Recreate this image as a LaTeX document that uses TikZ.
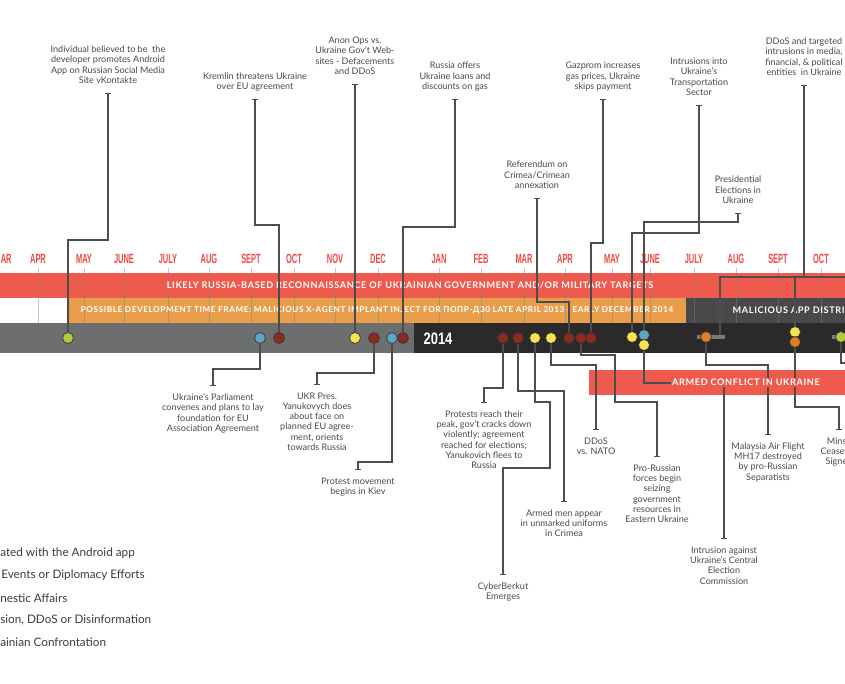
\documentclass[tikz,border=0pt]{standalone}
\usepackage{fontspec}
\setmainfont{Lato}
\newfontfamily\monthfont{Liberation Sans}[FakeStretch=0.56]
\newfontfamily\yearfont{Liberation Sans}[FakeStretch=0.78]
\newfontfamily\bandfont{Lato}[LetterSpace=7]
\usetikzlibrary{arrows.meta}
\definecolor{bandred}{HTML}{EF5A4E}
\definecolor{bandorange}{HTML}{E89E4A}
\definecolor{banddark}{HTML}{49484A}
\definecolor{tlgrey}{HTML}{6D6E70}
\definecolor{tldark}{HTML}{2B2929}
\definecolor{monthred}{HTML}{EE4845}
\definecolor{labc}{HTML}{4A4A4A}
\definecolor{legc}{HTML}{3C3C3C}
\definecolor{connc}{HTML}{4D4D4D}
\definecolor{dotline}{HTML}{333333}
\definecolor{cgreen}{HTML}{B4C93C}
\definecolor{cblue}{HTML}{5BA6C2}
\definecolor{cdred}{HTML}{8C2A1F}
\definecolor{cyellow}{HTML}{F6E34F}
\definecolor{corange}{HTML}{E07E22}
\definecolor{barg}{HTML}{7A7A7C}
\begin{document}
\begin{tikzpicture}[x=0.75pt,y=-0.75pt,
  month/.style={font=\monthfont\bfseries\fontsize{10}{11}\selectfont, text=monthred, inner sep=0pt},
  mtick/.style={draw=gray, line width=0.4pt, opacity=0.45},
  bandtxt/.style={font=\bandfont\bfseries\fontsize{6.85}{7}\selectfont, text=white, inner sep=1pt},
  bandtxtsmall/.style={font=\bandfont\bfseries\fontsize{6.15}{7}\selectfont, text=white, inner sep=1pt},
  yeartxt/.style={font=\yearfont\bfseries\fontsize{12.5}{13}\selectfont, text=white, inner sep=0pt},
  dot/.style={circle, draw=dotline, line width=0.5pt, minimum size=8.2pt, inner sep=0pt},
  greybar/.style={fill=barg, minimum height=3pt, inner sep=0pt},
  lbl/.style={font=\fontsize{6.8}{7.7}\selectfont, text=labc, align=center, inner xsep=0pt, inner ysep=5.5pt, text depth=1.5pt},
  legend/.style={font=\fontsize{8.8}{10}\selectfont, text=legc, inner sep=0pt, anchor=west},
  conn/.style={draw=connc, line width=0.85pt},
  endtip/.style={-{Bar[width=4pt]}}
]
\useasboundingbox (0,0) rectangle (845,684);
\clip (0,0) rectangle (845,684);
\fill[white] (0,0) rectangle (845,684);
% bands
\fill[bandred] (0,273) rectangle (845,298);
\fill[bandorange] (68,298) rectangle (686,323);
\fill[banddark] (686,298) rectangle (845,323);
\fill[tlgrey] (0,323) rectangle (414,353);
\fill[tldark] (414,323) rectangle (845,353);
\fill[bandred] (589,370) rectangle (845,395);
% months
\node[month, anchor=west] (mon0) at (0.5,259) {AR};
\draw[mtick] (-3,268) -- (-3,323);
\foreach \m/\x [count=\i] in {APR/38,MAY/84,JUNE/124,JULY/168,AUG/209,SEPT/251,OCT/294,NOV/335,DEC/378,JAN/439,FEB/481,MAR/524,APR/565,MAY/612,JUNE/650,JULY/694,AUG/736,SEPT/778,OCT/821}{
  \node[month] (mon\i) at (\x,259) {\m};
  \draw[mtick] (mon\i.south |- 0,268) -- (mon\i.south |- 0,323);
}
% band texts
\node[bandtxt] (t1) at (410,285.5) {LIKELY RUSSIA-BASED RECONNAISSANCE OF UKRAINIAN GOVERNMENT AND/OR MILITARY TARGETS};
\node[bandtxtsmall] (t2) at (377,310.5) {POSSIBLE DEVELOPMENT TIME FRAME: MALICIOUS X-AGENT IMPLANT INJECT FOR ПОПР-Д30 LATE APRIL 2013 - EARLY DECEMBER 2014};
\node[bandtxt, anchor=west] (t3) at (731,310.5) {MALICIOUS APP DISTRIBU};
\node[yeartxt] (yr) at (438,339) {2014};
% grey range bars
\node[greybar, minimum width=21pt] (bar1) at (711,337) {};
\node[greybar, minimum width=10pt] (bar2) at (838.5,337) {};
% dots
\node[dot, fill=cgreen]  (d1)  at (68,338) {};
\node[dot, fill=cblue]   (d2)  at (260,338) {};
\node[dot, fill=cdred]   (d3)  at (279,338) {};
\node[dot, fill=cyellow] (d4)  at (355,338) {};
\node[dot, fill=cdred]   (d5)  at (374,338) {};
\node[dot, fill=cblue]   (d6)  at (392,338) {};
\node[dot, fill=cdred]   (d7)  at (403,338) {};
\node[dot, fill=cdred]   (d8)  at (503,338) {};
\node[dot, fill=cdred]   (d9)  at (518,338) {};
\node[dot, fill=cyellow] (d10) at (535,338) {};
\node[dot, fill=cyellow] (d11) at (551,338) {};
\node[dot, fill=cdred]   (d12) at (569,338) {};
\node[dot, fill=cdred]   (d13) at (581,338) {};
\node[dot, fill=cdred]   (d14) at (591,338) {};
\node[dot, fill=cyellow] (d15) at (632,337) {};
\node[dot, fill=cblue]   (d16) at (644,335) {};
\node[dot, fill=cyellow] (d17) at (644,345) {};
\node[dot, fill=corange] (d18) at (706,337) {};
\node[dot, fill=cyellow] (d19) at (795,332) {};
\node[dot, fill=corange] (d20) at (795,342) {};
\node[dot, fill=cgreen]  (d21) at (841,337) {};
% top labels
\node[lbl, anchor=south] (L1) at (108,93) {Individual believed to be\ \ the\\developer promotes Android\\App on Russian Social Media\\Site vKontakte};
\node[lbl, anchor=south] (L2) at (255,99) {Kremlin threatens Ukraine\\over EU agreement};
\node[lbl, anchor=south] (L3) at (355,84) {Anon Ops vs.\\Ukraine Gov’t Web-\\sites - Defacements\\and DDoS};
\node[lbl, anchor=south] (L4) at (455,99) {Russia offers\\Ukraine loans and\\discounts on gas};
\node[lbl, anchor=south] (L5) at (537,198) {Referendum on\\Crimea/Crimean\\annexation};
\node[lbl, anchor=south] (L6) at (603,99) {Gazprom increases\\gas prices, Ukraine\\skips payment};
\node[lbl, anchor=south] (L7) at (699,105) {Intrusions into\\Ukraine’s\\Transportation\\Sector};
\node[lbl, anchor=south] (L8) at (738,213) {Presidential\\Elections in\\Ukraine};
\node[lbl, anchor=south] (L9) at (804,85) {DDoS and targeted\\intrusions in media,\\financial, \& political\\entities\ \ in Ukraine};
% bottom labels
\node[lbl, anchor=north] (L10) at (213,386) {Ukraine’s Parliament\\convenes and plans to lay\\foundation for EU\\Association Agreement};
\node[lbl, anchor=north] (L11) at (317,385) {UKR Pres.\\Yanukovych does\\about face on\\planned EU agree-\\ment, orients\\towards Russia};
\node[lbl, anchor=north] (L12) at (358,470) {Protest movement\\begins in Kiev};
\node[lbl, anchor=north] (L13) at (484,403) {Protests reach their\\peak, gov’t cracks down\\violently; agreement\\reached for elections;\\Yanukovich flees to\\Russia};
\node[lbl, anchor=north] (L14) at (596,430) {DDoS\\vs. NATO};
\node[lbl, anchor=north] (L15) at (564,502) {Armed men appear\\in unmarked uniforms\\in Crimea};
\node[lbl, anchor=north] (L16) at (657,457) {Pro-Russian\\forces begin\\seizing\\government\\resources in\\Eastern Ukraine};
\node[lbl, anchor=north] (L17) at (503,575) {CyberBerkut\\Emerges};
\node[lbl, anchor=north] (L18) at (768,435) {Malaysia Air Flight\\MH17 destroyed\\by pro-Russian\\Separatists};
\node[lbl, anchor=north] (L19) at (724,539) {Intrusion against\\Ukraine’s Central\\Election\\Commission};
\node[lbl, anchor=north] (L20) at (839,430) {Minsk\\Ceasefire\\Signed};
% helper coordinates
\coordinate (jL) at (720,277);
\coordinate (jR) at (850,277);
\coordinate (uR) at (850,363);
% connectors up
\draw[conn,endtip] (d1.north) -- (d1.north |- 0,240) -- (L1.south |- 0,240) -- (L1.south);
\draw[conn,endtip] (d3.north) -- (d3.north |- 0,225) -- (L2.south |- 0,225) -- (L2.south);
\draw[conn,endtip] (d4.north) -- (L3.south);
\draw[conn,endtip] (d7.north) -- (d7.north |- 0,227) -- (L4.south |- 0,227) -- (L4.south);
\draw[conn,endtip] (d12.north) -- (d12.north |- 0,302) -- (L5.south |- 0,302) -- (L5.south);
\draw[conn,endtip] (d14.north) -- (d14.north |- 0,243) -- (L6.south |- 0,243) -- (L6.south);
\draw[conn,endtip] (d15.north) -- (d15.north |- 0,233) -- (L7.south |- 0,233) -- (L7.south);
\draw[conn,endtip] (d16.north) -- (d16.north |- 0,222) -- (L8.south |- 0,222) -- (L8.south);
\draw[conn] (d19.north) -- (d19.north |- jL);
\draw[conn] (bar1.north -| jL) -- (jL) -- (jR);
\draw[conn,endtip] (jL -| L9.south) -- (L9.south);
% connectors down
\draw[conn,endtip] (d2.south) -- (d2.south |- 0,369) -- (L10.north |- 0,369) -- (L10.north);
\draw[conn,endtip] (d5.south) -- (d5.south |- 0,373) -- (L11.north |- 0,373) -- (L11.north);
\draw[conn,endtip] (d6.south) -- (d6.south |- 0,462) -- (L12.north |- 0,462) -- (L12.north);
\draw[conn,endtip] (d8.south) -- (d8.south |- 0,388) -- (L13.north |- 0,388) -- (L13.north);
\draw[conn,endtip] (d9.south) -- (d9.south |- 0,391) -- (L15.north |- 0,391) -- (L15.north);
\draw[conn,endtip] (d10.south) -- (d10.south |- 0,402) -- (550,402) -- (550,468) -- (L17.north |- 0,468) -- (L17.north);
\draw[conn,endtip] (d11.south) -- (d11.south |- 0,365) -- (L14.north |- 0,365) -- (L14.north);
\draw[conn,endtip] (d13.south) -- (d13.south |- 0,355) -- (615,355) -- (615,402) -- (L16.north |- 0,402) -- (L16.north);
\draw[conn,endtip] (d17.south) -- (d17.south |- 0,383) -- (L19.north |- 0,383) -- (L19.north);
\draw[conn,endtip] (d18.south) -- (d18.south |- 0,365) -- (L18.north |- 0,365) -- (L18.north);
\draw[conn,endtip] (d20.south) -- (d20.south |- 0,407) -- (L20.north |- 0,407) -- (L20.north);
\draw[conn] (d21.south) -- (d21.south |- uR) -- (uR);
% armed conflict text
\node[bandtxt, fill=bandred] (t4) at (746,382.5) {ARMED CONFLICT IN UKRAINE};
% legend
\node[legend] (g1) at (0,553) {ated with the Android app};
\node[legend] (g2) at (1,575) {Events or Diplomacy Efforts};
\node[legend] (g3) at (0,598) {nestic Affairs};
\node[legend] (g4) at (0,620) {sion, DDoS or Disinformation};
\node[legend] (g5) at (0,642) {ainian Confrontation};
\end{tikzpicture}
\end{document}
